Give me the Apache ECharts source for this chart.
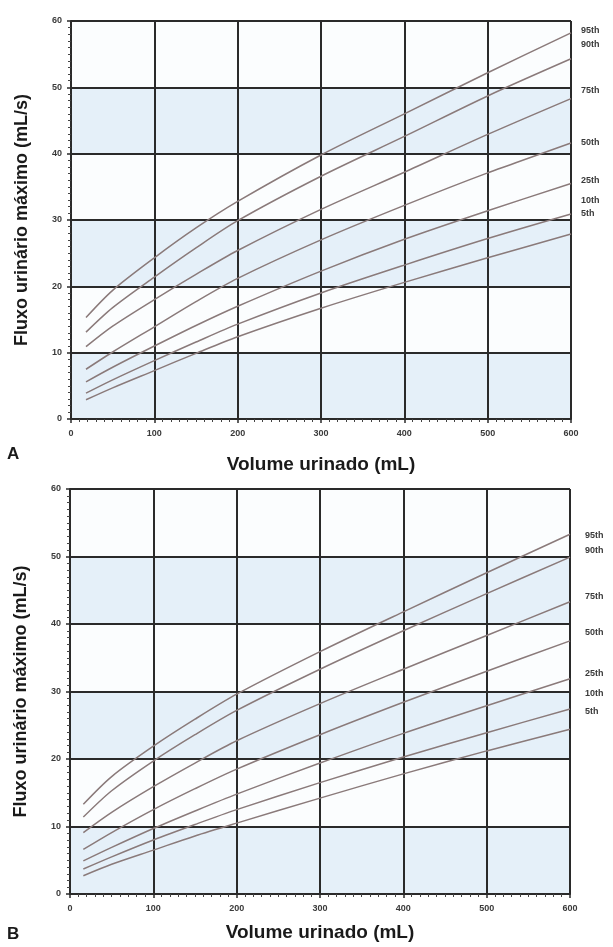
<!DOCTYPE html>
<html>
<head>
<meta charset="utf-8">
<script src="https://cdn.jsdelivr.net/npm/echarts@6/dist/echarts.min.js"></script>
<style>
  html, body { margin: 0; padding: 0; background: #fff; }
  #chart { width: 613px; height: 947px; }
</style>
</head>
<body>
<div id="chart"></div>
<script>
// Voided volume (mL) where the curve points are read
const volumeA = [18, 50, 100, 150, 200, 300, 400, 500, 600];
const volumeB = [16, 50, 100, 150, 200, 300, 400, 500, 600];

const percentiles = ["95th", "90th", "75th", "50th", "25th", "10th", "5th"];

// Panel A — max flow (mL/s)
const a95 = [15.3, 19.4, 24.3, 28.8, 32.8, 39.8, 46.0, 52.2, 58.2];
const a90 = [13.1, 16.8, 21.4, 25.8, 29.9, 36.6, 42.6, 48.7, 54.3];
const a75 = [10.9, 14.0, 18.0, 21.8, 25.4, 31.6, 37.2, 42.9, 48.3];
const a50 = [7.5, 10.1, 13.9, 17.7, 21.2, 27.0, 32.2, 37.1, 41.6];
const a25 = [5.6, 7.8, 11.0, 14.1, 17.0, 22.3, 27.1, 31.4, 35.5];
const a10 = [3.9, 5.9, 8.8, 11.6, 14.3, 19.0, 23.2, 27.2, 30.9];
const a05 = [2.9, 4.7, 7.3, 9.9, 12.4, 16.7, 20.6, 24.3, 27.9];

// Panel B — max flow (mL/s)
const b95 = [13.3, 17.4, 21.9, 25.9, 29.6, 35.9, 41.8, 47.6, 53.3];
const b90 = [11.4, 15.3, 19.7, 23.6, 27.2, 33.3, 39.0, 44.5, 49.9];
const b75 = [9.1, 12.1, 15.9, 19.4, 22.7, 28.2, 33.3, 38.3, 43.3];
const b50 = [6.6, 9.1, 12.5, 15.6, 18.5, 23.6, 28.4, 33.0, 37.5];
const b25 = [4.9, 6.9, 9.7, 12.3, 14.8, 19.4, 23.8, 27.9, 31.9];
const b10 = [3.7, 5.5, 8.0, 10.3, 12.5, 16.5, 20.3, 23.9, 27.4];
const b05 = [2.7, 4.4, 6.5, 8.6, 10.5, 14.2, 17.8, 21.2, 24.4];

// vertical nudges of the right-hand percentile labels (px)
const labelShiftA = [-2, -14, -8, -1, -3, -14, -20];
const labelShiftB = [1, -7, -5, -8, -5, -16, -18];

const seriesA = [a95, a90, a75, a50, a25, a10, a05];
const seriesB = [b95, b90, b75, b50, b25, b10, b05];

const FONT = "'Liberation Sans', Arial, sans-serif";
const GRID_COLOR = "#2a2a2a";
const CURVE_COLOR = "#8a7a7a";

function xAxis(gridIndex, nameGap) {
  return {
    type: "value", gridIndex, min: 0, max: 600, interval: 100,
    name: "Volume urinado (mL)", nameLocation: "middle", nameGap,
    nameTextStyle: { fontFamily: FONT, fontWeight: "bold", fontSize: 19, color: "#1a1a1a" },
    axisLine: { show: true, lineStyle: { color: GRID_COLOR, width: 2 } },
    axisTick: { show: true, length: 4, lineStyle: { color: GRID_COLOR, width: 1.5 } },
    minorTick: { show: true, splitNumber: 10, length: 3, lineStyle: { color: "#444", width: 1 } },
    axisLabel: { margin: 10, fontFamily: FONT, fontWeight: "bold", fontSize: 9, color: "#3a3a3a" },
    splitLine: { show: true, lineStyle: { color: GRID_COLOR, width: 2 } }
  };
}

function yAxis(gridIndex) {
  return {
    type: "value", gridIndex, min: 0, max: 60, interval: 10,
    name: "Fluxo urinário máximo (mL/s)", nameLocation: "middle", nameGap: 40, nameRotate: 90,
    nameTextStyle: { fontFamily: FONT, fontWeight: "bold", fontSize: 18, color: "#1a1a1a" },
    axisLine: { show: true, lineStyle: { color: GRID_COLOR, width: 2 } },
    axisTick: { show: true, length: 4, lineStyle: { color: GRID_COLOR, width: 1.5 } },
    minorTick: { show: true, splitNumber: 10, length: 3, lineStyle: { color: "#444", width: 1 } },
    axisLabel: { margin: 9, fontFamily: FONT, fontWeight: "bold", fontSize: 9, color: "#3a3a3a" },
    splitLine: { show: true, lineStyle: { color: GRID_COLOR, width: 2 } },
    splitArea: { show: true, areaStyle: { color: ["#e5f0f9", "#fbfdfe"] } }
  };
}

function curves(volume, data, idx, shifts, dist) {
  return data.map((vals, i) => ({
    type: "line",
    name: percentiles[i],
    xAxisIndex: idx, yAxisIndex: idx,
    data: volume.map((v, k) => [v, vals[k]]),
    smooth: 0.3,
    symbol: "none",
    lineStyle: { color: CURVE_COLOR, width: 1.5 },
    endLabel: {
      show: true, formatter: percentiles[i], distance: dist,
      offset: [0, shifts[i]],
      fontFamily: FONT, fontWeight: "bold", fontSize: 9, color: "#3a3a3a"
    },
    z: 3
  }));
}

const chart = echarts.init(document.getElementById("chart"), null, { renderer: "canvas" });

chart.setOption({
  animation: false,
  backgroundColor: "#ffffff",
  grid: [
    { left: 71, top: 21, width: 500, height: 398 },
    { left: 70, top: 489, width: 500, height: 405 }
  ],
  xAxis: [xAxis(0, 36), xAxis(1, 29)],
  yAxis: [yAxis(0), yAxis(1)],
  graphic: [
    { type: "text", left: 7, top: 446, style: { text: "A", fontFamily: FONT, fontWeight: "bold", fontSize: 17, fill: "#1a1a1a" } },
    { type: "text", left: 7, top: 926, style: { text: "B", fontFamily: FONT, fontWeight: "bold", fontSize: 17, fill: "#1a1a1a" } }
  ],
  series: [
    ...curves(volumeA, seriesA, 0, labelShiftA, 10),
    ...curves(volumeB, seriesB, 1, labelShiftB, 15)
  ]
});
</script>
</body>
</html>
